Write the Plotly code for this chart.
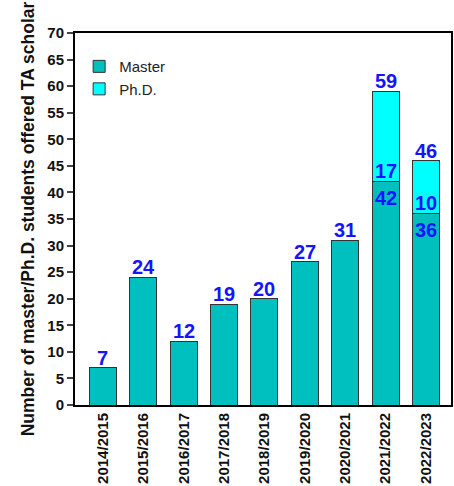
import plotly.graph_objects as go

years = ["2014/2015", "2015/2016", "2016/2017", "2017/2018", "2018/2019",
         "2019/2020", "2020/2021", "2021/2022", "2022/2023"]
master = [7, 24, 12, 19, 20, 27, 31, 42, 36]
phd = [0, 0, 0, 0, 0, 0, 0, 17, 10]
y_ticks = list(range(0, 75, 5))

totals = [m + p for m, p in zip(master, phd)]

MASTER_C = "#00BFBF"
PHD_C = "#00FFFF"
LABEL_C = "#1414FF"
FONT = "Liberation Sans, Arial, sans-serif"

fig = go.Figure()
fig.add_trace(go.Bar(x=years, y=master, name="Master", marker_color=MASTER_C,
                     legendgroup="m",
                     marker_line=dict(color="#333333", width=1)))
fig.add_trace(go.Bar(x=years, y=[p if p else None for p in phd], name="Ph.D.",
                     legendgroup="p",
                     marker_color=PHD_C, marker_line=dict(color="#333333", width=1)))

ann = []
lab_font = dict(family=FONT, size=20, color=LABEL_C)
for yr, m, p, t in zip(years, master, phd, totals):
    ann.append(dict(x=yr, y=t, text=f"<b>{t}</b>", showarrow=False, yanchor="bottom",
                    yshift=-3, font=lab_font))
    if p:
        ann.append(dict(x=yr, y=m, text=f"<b>{p}</b>", showarrow=False, yanchor="bottom",
                        yshift=-2, font=lab_font))
        ann.append(dict(x=yr, y=m, text=f"<b>{m}</b>", showarrow=False, yanchor="top",
                        yshift=-3, font=lab_font))

fig.update_layout(
    barmode="stack",
    bargap=0.33,
    width=454, height=486,
    margin=dict(l=75, r=3, t=33, b=81, autoexpand=False),
    paper_bgcolor="white", plot_bgcolor="white",
    font=dict(family=FONT, color="black"),
    annotations=ann,
    showlegend=True,
    legend=dict(x=0.011, y=0.954, xanchor="left", yanchor="top", traceorder="normal",
                font=dict(family=FONT, size=15, color="#222222"),
                bgcolor="rgba(0,0,0,0)", itemwidth=30, tracegroupgap=11),
    xaxis=dict(range=[-0.69, 8.62], showline=True, linecolor="black", linewidth=2,
               mirror=True, ticks="", tickangle=-90, automargin=False,
               tickfont=dict(family=FONT, size=15, color="#111111", weight="bold")),
    yaxis=dict(range=[0, 70], tickvals=y_ticks, showline=True, linecolor="black",
               linewidth=2, mirror=True, ticks="outside", ticklen=6, tickwidth=2,
               showgrid=False, zeroline=False, automargin=False,
               tickfont=dict(family=FONT, size=15, color="#111111", weight="bold"),
               title=dict(text="<b>Number of master/Ph.D. students offered TA scholar</b>",
                          font=dict(family=FONT, size=17.5, color="#111111"), standoff=8)),
)

fig.write_html("out.html", config={"displayModeBar": False},
               post_script="document.body.style.margin='0';document.body.style.overflow='hidden';")
